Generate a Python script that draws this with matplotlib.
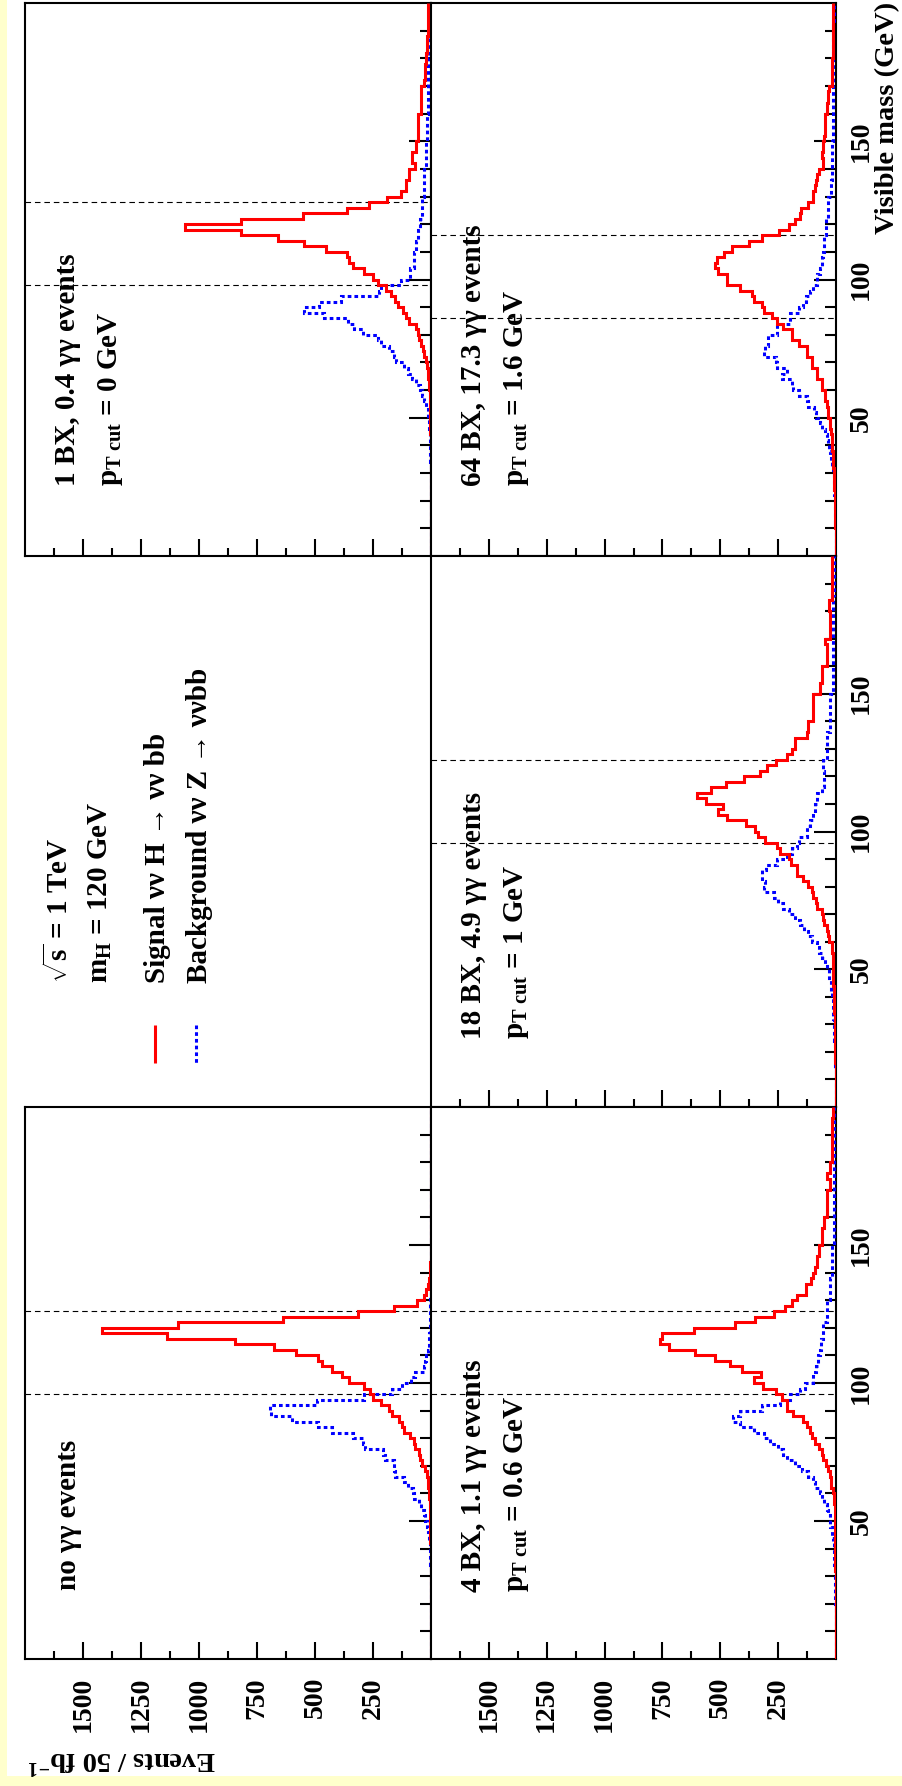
import numpy as np
import matplotlib
matplotlib.use('Agg')
import matplotlib.pyplot as plt
from matplotlib.ticker import FixedLocator
from matplotlib.patches import Rectangle

plt.rcParams['font.family'] = ['Liberation Serif', 'DejaVu Serif']
plt.rcParams['font.weight'] = 'bold'
plt.rcParams['mathtext.fontset'] = 'custom'
plt.rcParams['mathtext.rm'] = 'Liberation Serif:bold'
plt.rcParams['mathtext.it'] = 'Liberation Serif:italic:bold'
plt.rcParams['mathtext.bf'] = 'Liberation Serif:bold'

# ---------------- data (2 GeV bins, visible mass 0-200 GeV) ----------------
mass_edges = np.arange(0, 202, 2)

sig_noGG = [0, 0, 0, 0, 0, 0, 0, 0, 0, 0,
            0, 1, 1, 1, 1, 1, 2, 2, 2, 2,
            2, 3, 3, 3, 3, 3, 4, 5, 6, 8,
            10, 12, 14, 17, 25, 39, 46, 53, 68, 72,
            89, 118, 125, 140, 170, 180, 216, 248, 265, 288,
            352, 385, 428, 471, 489, 584, 676, 846, 1139, 1419,
            1092, 640, 313, 159, 60, 30, 22, 15, 10, 6,
            4, 3, 2, 1, 1, 0, 0, 0, 0, 0,
            0, 0, 0, 0, 0, 0, 0, 0, 0, 0,
            0, 0, 0, 0, 0, 0, 0, 0, 0, 0]
bkg_noGG = [0, 0, 0, 0, 0, 0, 0, 0, 0, 0,
            1, 1, 1, 1, 1, 2, 2, 3, 3, 4,
            5, 7, 10, 14, 17, 25, 32, 43, 53, 72,
            78, 97, 118, 154, 159, 159, 198, 205, 284, 291,
            335, 428, 486, 601, 688, 695, 493, 287, 169, 125,
            87, 68, 32, 25, 20, 14, 10, 8, 7, 6,
            5, 5, 4, 4, 3, 3, 2, 2, 2, 1,
            1, 1, 1, 1, 1, 0, 0, 0, 0, 0,
            0, 0, 0, 0, 0, 0, 0, 0, 0, 0,
            0, 0, 0, 0, 0, 0, 0, 0, 0, 0]

sig_1BX = [0, 0, 0, 0, 0, 0, 0, 0, 0, 0,
           0, 1, 1, 1, 1, 1, 1, 2, 2, 2,
           2, 2, 3, 3, 3, 4, 4, 4, 5, 5,
           7, 9, 11, 14, 17, 22, 29, 36, 43, 50,
           57, 65, 93, 108, 122, 144, 155, 172, 194, 230,
           251, 290, 338, 355, 362, 453, 546, 661, 819, 1060,
           819, 553, 362, 266, 190, 129, 108, 108, 93, 93,
           70, 80, 80, 65, 65, 55, 55, 55, 55, 55,
           43, 43, 43, 43, 43, 30, 28, 26, 25, 22,
           20, 18, 17, 16, 15, 14, 13, 12, 12, 12]
bkg_1BX = [0, 0, 0, 0, 0, 0, 0, 0, 0, 0,
           1, 1, 1, 1, 2, 2, 2, 3, 3, 4,
           4, 5, 6, 7, 9, 11, 14, 22, 29, 40,
           46, 65, 83, 98, 115, 151, 161, 180, 216, 230,
           295, 333, 359, 460, 546, 481, 388, 223, 216, 129,
           89, 89, 75, 75, 75, 65, 65, 58, 58, 46,
           46, 40, 40, 40, 40, 29, 29, 29, 29, 29,
           22, 22, 22, 22, 22, 17, 17, 17, 17, 17,
           14, 14, 13, 13, 12, 12, 12, 11, 11, 11,
           10, 10, 10, 9, 9, 9, 8, 8, 8, 8]

sig_4BX = [0, 0, 0, 0, 1, 1, 1, 1, 1, 1,
           1, 2, 2, 2, 2, 2, 3, 3, 3, 3,
           3, 3, 4, 4, 4, 4, 5, 6, 9, 9,
           11, 23, 23, 26, 33, 43, 57, 62, 72, 90,
           105, 112, 124, 141, 187, 210, 213, 234, 259, 316,
           354, 325, 407, 457, 522, 611, 723, 759, 752, 615,
           435, 349, 270, 220, 191, 170, 129, 129, 109, 101,
           90, 83, 83, 72, 72, 62, 62, 62, 52, 52,
           40, 40, 40, 40, 40, 26, 26, 37, 26, 26,
           19, 19, 19, 18, 17, 17, 16, 16, 15, 15]
bkg_4BX = [0, 0, 1, 1, 1, 1, 1, 2, 2, 2,
           3, 3, 4, 4, 5, 5, 6, 7, 8, 9,
           10, 11, 19, 19, 26, 26, 33, 40, 52, 62,
           69, 90, 98, 119, 148, 177, 213, 230, 249, 285,
           313, 356, 414, 443, 414, 320, 241, 198, 155, 134,
           98, 98, 86, 76, 76, 70, 66, 66, 55, 55,
           55, 37, 37, 37, 37, 26, 26, 26, 26, 19,
           19, 19, 19, 19, 19, 10, 10, 10, 10, 10,
           10, 9, 9, 9, 9, 9, 9, 8, 8, 8,
           8, 8, 8, 7, 7, 7, 7, 7, 7, 7]

sig_18BX = [0, 1, 1, 1, 1, 2, 2, 2, 3, 3,
            3, 4, 4, 5, 5, 6, 6, 7, 8, 9,
            9, 10, 11, 11, 12, 14, 14, 14, 19, 19,
            29, 33, 40, 52, 55, 62, 83, 86, 98, 105,
            119, 141, 167, 170, 195, 205, 241, 256, 306, 339,
            349, 388, 471, 512, 489, 560, 601, 540, 474, 397,
            330, 296, 259, 210, 191, 177, 177, 126, 119, 119,
            100, 100, 100, 100, 100, 69, 69, 62, 62, 62,
            40, 40, 40, 40, 47, 26, 26, 26, 26, 26,
            29, 29, 19, 19, 19, 19, 18, 18, 17, 17]
bkg_18BX = [1, 1, 1, 1, 2, 2, 2, 3, 3, 4,
            5, 6, 7, 8, 9, 10, 11, 13, 14, 15,
            18, 23, 23, 29, 29, 37, 47, 62, 72, 83,
            105, 119, 138, 155, 177, 205, 227, 249, 270, 313,
            306, 320, 320, 302, 256, 213, 191, 170, 160, 126,
            126, 112, 100, 90, 90, 83, 83, 60, 50, 50,
            50, 55, 55, 40, 40, 40, 40, 40, 26, 26,
            26, 26, 26, 26, 26, 14, 14, 14, 13, 13,
            13, 13, 12, 12, 12, 12, 12, 12, 11, 11,
            11, 11, 11, 10, 10, 10, 10, 10, 10, 10]

sig_64BX = [1, 1, 2, 2, 2, 3, 3, 4, 4, 5,
            6, 6, 7, 8, 8, 10, 11, 13, 15, 17,
            19, 19, 22, 26, 26, 33, 33, 40, 47, 47,
            62, 62, 83, 83, 105, 105, 126, 126, 162, 191,
            191, 230, 256, 277, 313, 320, 355, 364, 414, 471,
            471, 512, 522, 515, 486, 450, 378, 320, 246, 205,
            177, 155, 152, 119, 100, 100, 92, 86, 80, 72,
            58, 55, 60, 57, 57, 50, 47, 47, 47, 47,
            40, 40, 33, 33, 30, 18, 18, 18, 17, 17,
            15, 15, 15, 14, 14, 12, 12, 12, 12, 12]
bkg_64BX = [1, 1, 1, 2, 2, 2, 3, 3, 4, 5,
            6, 7, 8, 9, 10, 15, 19, 22, 26, 29,
            35, 41, 47, 60, 69, 85, 95, 119, 125, 162,
            184, 190, 234, 213, 256, 260, 313, 306, 292, 292,
            256, 256, 198, 198, 160, 144, 128, 112, 100, 83,
            83, 70, 62, 62, 58, 52, 52, 52, 43, 43,
            43, 33, 33, 33, 33, 22, 21, 20, 19, 19,
            19, 19, 18, 18, 18, 15, 15, 15, 15, 14,
            14, 14, 14, 13, 13, 13, 12, 12, 12, 12,
            12, 12, 11, 11, 11, 11, 10, 10, 10, 10]

# mass windows (GeV)
win_noGG = [96, 126]
win_1BX = [98, 128]
win_4BX = [96, 126]
win_18BX = [96, 126]
win_64BX = [86, 116]

ev_major = [250, 500, 750, 1000, 1250, 1500]
ev_minor = [125, 375, 625, 875, 1125, 1375, 1625]
mass_major = [50, 100, 150]
mass_minor = [10, 20, 30, 40, 60, 70, 80, 90, 110, 120, 130, 140, 160, 170, 180, 190]

# ---------------- figure ----------------
FW, FH = 902, 1786
fig = plt.figure(figsize=(FW / 100, FH / 100), dpi=100)
fig.patch.set_facecolor('white')

COLS = [(25, 431), (431, 836)]
ROWS = [(3, 556), (556, 1107), (1107, 1659)]


def add_panel(col, row):
    x0, x1 = COLS[col]
    y0, y1 = ROWS[row]
    return fig.add_axes([x0 / FW, 1 - y1 / FH, (x1 - x0) / FW, (y1 - y0) / FH])


panels = [
    (0, 0, sig_1BX, bkg_1BX, win_1BX, False, False),
    (1, 0, sig_64BX, bkg_64BX, win_64BX, False, True),
    (1, 1, sig_18BX, bkg_18BX, win_18BX, False, True),
    (0, 2, sig_noGG, bkg_noGG, win_noGG, True, False),
    (1, 2, sig_4BX, bkg_4BX, win_4BX, True, True),
]

for col, row, sig, bkg, win, show_ev, show_m in panels:
    ax = add_panel(col, row)
    ax.set_xlim(1750, 0)
    ax.set_ylim(0, 200)
    for m in win:
        ax.axhline(m, color='black', lw=0.8, ls=(0, (5, 3.5)), zorder=2)
    ax.stairs(bkg, mass_edges, orientation='horizontal', baseline=None,
              color='#0000ff', lw=2.2, ls=(0, (1.2, 1.0)), zorder=3)
    ax.stairs(sig, mass_edges, orientation='horizontal', baseline=None,
              color='#ff0000', lw=2.2, zorder=4)
    ax.xaxis.set_major_locator(FixedLocator(ev_major))
    ax.xaxis.set_minor_locator(FixedLocator(ev_minor))
    ax.yaxis.set_major_locator(FixedLocator(mass_major))
    ax.yaxis.set_minor_locator(FixedLocator(mass_minor))
    ax.xaxis.tick_bottom()
    ax.yaxis.tick_right()
    ax.tick_params(axis='x', which='major', direction='in', length=12, width=1.5,
                   pad=13, labelsize=20, labelbottom=show_ev, labelrotation=90)
    ax.tick_params(axis='x', which='minor', direction='in', length=6, width=1.5)
    ax.tick_params(axis='y', which='major', direction='in', length=16, width=1.5,
                   pad=9, labelsize=20, labelright=show_m, labelleft=False,
                   labelrotation=90)
    ax.tick_params(axis='y', which='minor', direction='in', length=8, width=1.5)
    for t in ax.get_yticklabels():
        t.set_va('center')
    for s in ax.spines.values():
        s.set_linewidth(1.5)

# ---------------- overlay for texts (image pixel coordinates) ----------------
ov = fig.add_axes([0, 0, 1, 1], zorder=10)
ov.set_xlim(0, FW)
ov.set_ylim(FH, 0)
ov.axis('off')
ov.patch.set_alpha(0)

ov.add_patch(Rectangle((0, 0), 7, FH, color='#ffffcc', lw=0))
ov.add_patch(Rectangle((0, 1776), FW, 10, color='#ffffcc', lw=0))

FS = 21


def rtext(x, y, s, fs=FS):
    ov.text(x, y, s, rotation=90, rotation_mode='anchor', ha='left',
            va='baseline', fontsize=fs)


rtext(75, 486, r'1 BX, 0.4 $\gamma\gamma$ events'.replace(r'$\gamma\gamma$', 'γγ'))
rtext(117, 486, r'p$_{\rm T\ cut}$ = 0 GeV')
rtext(481, 486, '64 BX, 17.3 γγ events')
rtext(523, 486, r'p$_{\rm T\ cut}$ = 1.6 GeV')
rtext(481, 1039, '18 BX, 4.9 γγ events')
rtext(523, 1039, r'p$_{\rm T\ cut}$ = 1 GeV')
rtext(76, 1590, 'no γγ events')
rtext(481, 1592, '4 BX, 1.1 γγ events')
rtext(523, 1592, r'p$_{\rm T\ cut}$ = 0.6 GeV')

# legend block
rtext(68, 983, r'$\sqrt{\rm s}$ = 1 TeV')
rtext(108, 983, r'm$_{\rm H}$ = 120 GeV')
rtext(165, 983, 'Signal νν H → νν bb')
rtext(207, 983, 'Background νν Z → ννbb')
ov.plot([155, 155], [1025, 1063], color='#ff0000', lw=2.2, solid_capstyle='butt')
ov.plot([196, 196], [1025, 1063], color='#0000ff', lw=2.2, ls=(0, (1.2, 1.0)))

# axis titles
ov.text(888, 2, 'Visible mass (GeV)', rotation=90, ha='center', va='top', fontsize=20.5)
ov.text(28, 1760, r'Events / 50 fb$^{-1}$', rotation=180, ha='left', va='center',
        fontsize=20.5)

fig.savefig('out.png', dpi=100, facecolor='white')
